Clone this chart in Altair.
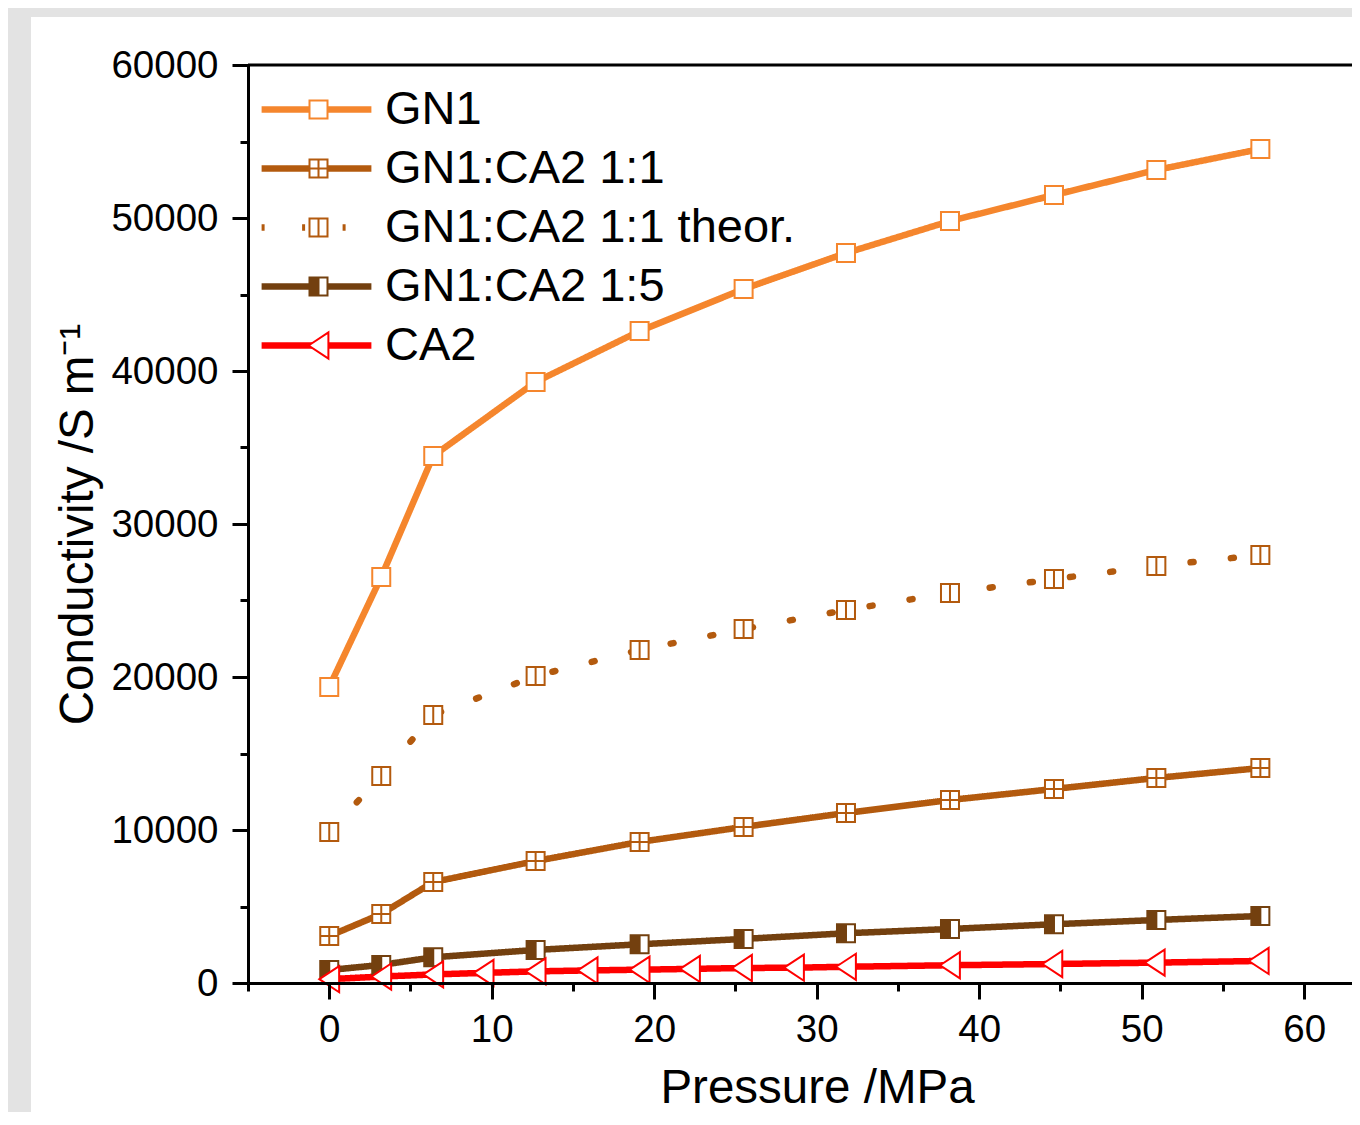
import altair as alt
import pandas as pd

# ---------------- data ----------------
series_names = ["GN1", "GN1:CA2 1:1", "GN1:CA2 1:1 theor.", "GN1:CA2 1:5", "CA2"]

pressure_main = [0, 3.2, 6.4, 12.7, 19.1, 25.5, 31.8, 38.2, 44.6, 50.9, 57.3]
gn1 = [19350, 26540, 34450, 39280, 42610, 45360, 47710, 49800, 51500, 53140, 54510]
gn1_ca2_11 = [3070, 4510, 6600, 7970, 9220, 10200, 11110, 11960, 12680, 13400, 14050]
gn1_ca2_11_theor = [9870, 13530, 17520, 20070, 21770, 23140, 24380, 25490, 26400, 27260, 27970]
gn1_ca2_15 = [850, 1180, 1680, 2160, 2530, 2880, 3250, 3530, 3840, 4120, 4380]

pressure_ca2 = [0, 3.2, 6.4, 9.5, 12.7, 15.9, 19.1, 22.2, 25.4, 28.6, 31.8, 38.2, 44.5, 50.8, 57.2]
ca2 = [250, 420, 560, 660, 760, 820, 870, 920, 980, 1000, 1060, 1160, 1240, 1330, 1440]

x_major = list(range(0, 61, 10))
x_minor = list(range(-5, 60, 10))
y_major = list(range(0, 60001, 10000))
y_minor = list(range(5000, 60000, 10000))

# ---------------- styles ----------------
colors = ["#F5862D", "#B35A0E", "#B35A0E", "#73400F", "#FF0000"]
dashes = [[1, 0], [1, 0], [3, 37.5], [1, 0], [1, 0]]
sq = "M-1,-1L1,-1L1,1L-1,1Z"
shapes = [
    sq,
    sq + "M0,-1L0,1M-1,0L1,0",
    sq + "M0,-1L0,1",
    sq + "M-0.8,-1L-0.8,1M-0.6,-1L-0.6,1M-0.4,-1L-0.4,1M-0.2,-1L-0.2,1M0,-1L0,1",
    "M-1.1,0L1.1,-1.45L1.1,1.45Z",
]
marker_keys = ["m_" + s for s in series_names]
FONT = "Liberation Sans"

rows = []
for name, vals in zip(series_names[:4], [gn1, gn1_ca2_11, gn1_ca2_11_theor, gn1_ca2_15]):
    for p, v in zip(pressure_main, vals):
        rows.append({"series": name, "series_b": "m_" + name, "pressure": p, "cond": v})
for p, v in zip(pressure_ca2, ca2):
    rows.append({"series": "CA2", "series_b": "m_CA2", "pressure": p, "cond": v})
df = pd.DataFrame(rows)

W, H = 1104, 918

xscale = alt.Scale(domain=[-5, 62.94], nice=False, zero=False)
yscale = alt.Scale(domain=[0, 60000], nice=False, zero=False)

common = dict(tickWidth=3, domainWidth=3, tickColor="black", domainColor="black",
              labelFont=FONT, labelFontSize=38.5, labelColor="black",
              labelOverlap=False, labelFlush=False, grid=False, zindex=2)

xaxis = alt.Axis(
    values=x_major, format="d", tickSize=16, labelPadding=12, orient="bottom",
    title="Pressure /MPa", titleFont=FONT, titleFontSize=47.5, titleFontWeight="normal",
    titleColor="black", titleX=569, titleY=119, titleAlign="center", titleBaseline="alphabetic",
    **common,
)
yaxis = alt.Axis(
    values=y_major, format="d", tickSize=16, labelPadding=14, orient="left",
    title="Conductivity /S m⁻¹", titleFont=FONT, titleFontSize=47.5, titleFontWeight="normal",
    titleColor="black", titleX=-156, titleY=459, titleAngle=270, titleAlign="center",
    titleBaseline="alphabetic",
    **common,
)
xaxis_minor = alt.Axis(values=x_minor, tickSize=8, tickWidth=3, tickColor="black",
                       labels=False, domain=False, grid=False, title=None, orient="bottom", zindex=2)
yaxis_minor = alt.Axis(values=y_minor, tickSize=8, tickWidth=3, tickColor="black",
                       labels=False, domain=False, grid=False, title=None, orient="left", zindex=2)

legend_lines = alt.Legend(
    title=None, orient="none", legendX=45, legendY=21, direction="vertical",
    symbolType="M-6.1,0L6.1,0", symbolSize=324, symbolStrokeWidth=6.5,
    labelFont=FONT, labelFontSize=47, labelColor="black", labelOffset=45,
    rowPadding=11, padding=0, labelLimit=0, zindex=3,
)
legend_marks = alt.Legend(
    title=None, orient="none", legendX=47, legendY=21, direction="vertical",
    symbolSize=324, symbolStrokeWidth=2, symbolFillColor="white",
    labelFont=FONT, labelFontSize=47, labelExpr="''",
    rowPadding=11, padding=0, labelLimit=0, zindex=4,
)

panel = alt.Chart(pd.DataFrame({"a": [0]})).mark_rect(color="white", clip=False).encode(
    x=alt.value(-217), x2=alt.value(W + 40), y=alt.value(-48), y2=alt.value(H + 200)
)

top_line = alt.Chart(pd.DataFrame({"a": [0]})).mark_rule(color="black", strokeWidth=3).encode(
    y=alt.YDatum(60000, scale=yscale, axis=None)
)

lines = alt.Chart(df).mark_line(strokeWidth=6.5, strokeCap="round", strokeJoin="round").encode(
    x=alt.X("pressure:Q", scale=xscale, axis=xaxis),
    y=alt.Y("cond:Q", scale=yscale, axis=yaxis),
    color=alt.Color("series:N", scale=alt.Scale(domain=series_names, range=colors), legend=legend_lines),
    strokeDash=alt.StrokeDash("series:N", scale=alt.Scale(domain=series_names, range=dashes), legend=legend_lines),
    detail="series:N",
)

points = alt.Chart(df).mark_point(size=324, strokeWidth=2, fill="white", filled=False, opacity=1).encode(
    x=alt.X("pressure:Q", scale=xscale, axis=xaxis_minor),
    y=alt.Y("cond:Q", scale=yscale, axis=yaxis_minor),
    shape=alt.Shape("series_b:N", scale=alt.Scale(domain=marker_keys, range=shapes), legend=legend_marks),
    stroke=alt.Stroke("series_b:N", scale=alt.Scale(domain=marker_keys, range=colors), legend=legend_marks),
)

chart = alt.layer(panel, top_line, lines, points).resolve_axis(
    x="independent", y="independent"
).properties(
    width=W, height=H,
    padding={"left": 240, "top": 57, "right": 0, "bottom": 129},
    autosize="none",
    background="#E3E3E3",
).configure_view(stroke=None)

chart.save("out.html", embed_options={"renderer": "svg", "actions": False})
